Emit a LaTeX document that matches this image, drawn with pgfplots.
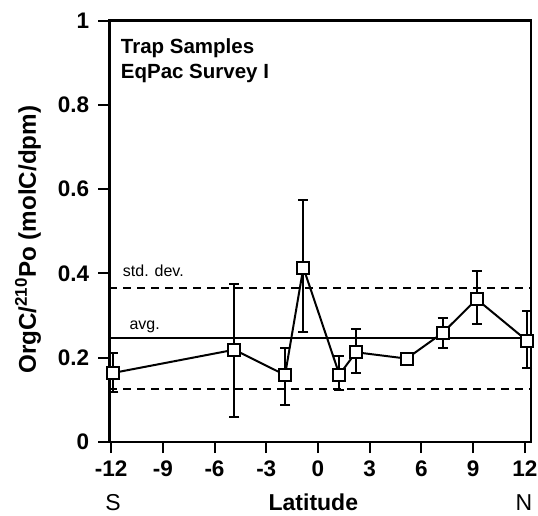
\documentclass[border=0pt]{standalone}
\usepackage{fontspec}
\setmainfont{Liberation Sans}
\usepackage{pgfplots}
\pgfplotsset{compat=1.18}
\usepackage{pgfplotstable}

\pgfplotstableread{
x y ep em
-11.87 0.164 0.048 0.046
-4.85 0.219 0.157 0.160
-1.91 0.159 0.065 0.071
-0.85 0.414 0.161 0.154
1.24 0.160 0.044 0.037
2.20 0.213 0.055 0.049
5.14 0.198 0 0
7.23 0.259 0.035 0.035
9.20 0.339 0.066 0.060
12.13 0.240 0.070 0.065
}\traps

\begin{document}
\begin{tikzpicture}
\useasboundingbox (-109.3pt,-73pt) rectangle (428.7pt,442pt);
\begin{axis}[
  at={(0,0)}, anchor=south west,
  scale only axis, width=421.7pt, height=421.3pt,
  xmin=-12.1, xmax=12.35, ymin=0, ymax=1,
  clip=false,
  axis line style={line width=2.5pt},
  tick style={line width=2pt, black},
  major tick length=11pt,
  tick align=outside,
  tick pos=left,
  xtick={-12,-9,-6,-3,0,3,6,9,12},
  xticklabels={-12,-9,-6,-3,0,3,6,9,12},
  ytick={0,0.2,0.4,0.6,0.8,1},
  yticklabels={0,0.2,0.4,0.6,0.8,1},
  ticklabel style={font=\bfseries\fontsize{22.5}{22.5}\selectfont, inner sep=0pt},
  yticklabel style={anchor=east, xshift=-9pt},
  xticklabel style={anchor=north, yshift=-7.7pt},
  minor tick num=0,
]
\addplot[line width=1.8pt, black] coordinates {(-12.1,0.246) (12.35,0.246)};
\addplot[line width=2pt, black, dash pattern=on 8pt off 6pt] coordinates {(-12.1,0.366) (12.35,0.366)};
\addplot[line width=2pt, black, dash pattern=on 8pt off 6pt] coordinates {(-12.1,0.126) (12.35,0.126)};
\addplot[line width=2pt, black, mark=square*, mark size=6pt,
  mark options={fill=white, line width=2pt, solid},
  error bars/.cd, y dir=both, y explicit,
  error bar style={line width=2pt, black},
  error mark options={rotate=90, mark size=5pt, line width=2pt}]
  table[x=x, y=y, y error plus=ep, y error minus=em] {\traps};

\node[anchor=base west, inner sep=0pt, font=\bfseries\fontsize{20.5}{20.5}\selectfont] at (axis cs:-11.44,0.923) {Trap Samples};
\node[anchor=base west, inner sep=0pt, font=\bfseries\fontsize{20.5}{20.5}\selectfont] at (axis cs:-11.44,0.863) {EqPac Survey I};
\node[anchor=base west, inner sep=0pt, font=\fontsize{16}{16}\selectfont] at (axis cs:-11.32,0.394) {std. dev.};
\node[anchor=base west, inner sep=0pt, font=\fontsize{16}{16}\selectfont] at (axis cs:-10.94,0.268) {avg.};

\node[anchor=base, inner sep=0pt, font=\bfseries\fontsize{23}{23}\selectfont] at (axis cs:-0.27,-0.162) {Latitude};
\node[anchor=base, inner sep=0pt, font=\fontsize{23}{23}\selectfont] at (axis cs:-11.88,-0.162) {S};
\node[anchor=base, inner sep=0pt, font=\fontsize{23}{23}\selectfont] at (axis cs:11.94,-0.162) {N};
\node[anchor=base, inner sep=0pt, rotate=90, font=\bfseries\fontsize{24.2}{24.2}\selectfont] at (axis cs:-16.35,0.48) {OrgC/\textsuperscript{210}Po (molC/dpm)};
\end{axis}
\end{tikzpicture}
\end{document}
